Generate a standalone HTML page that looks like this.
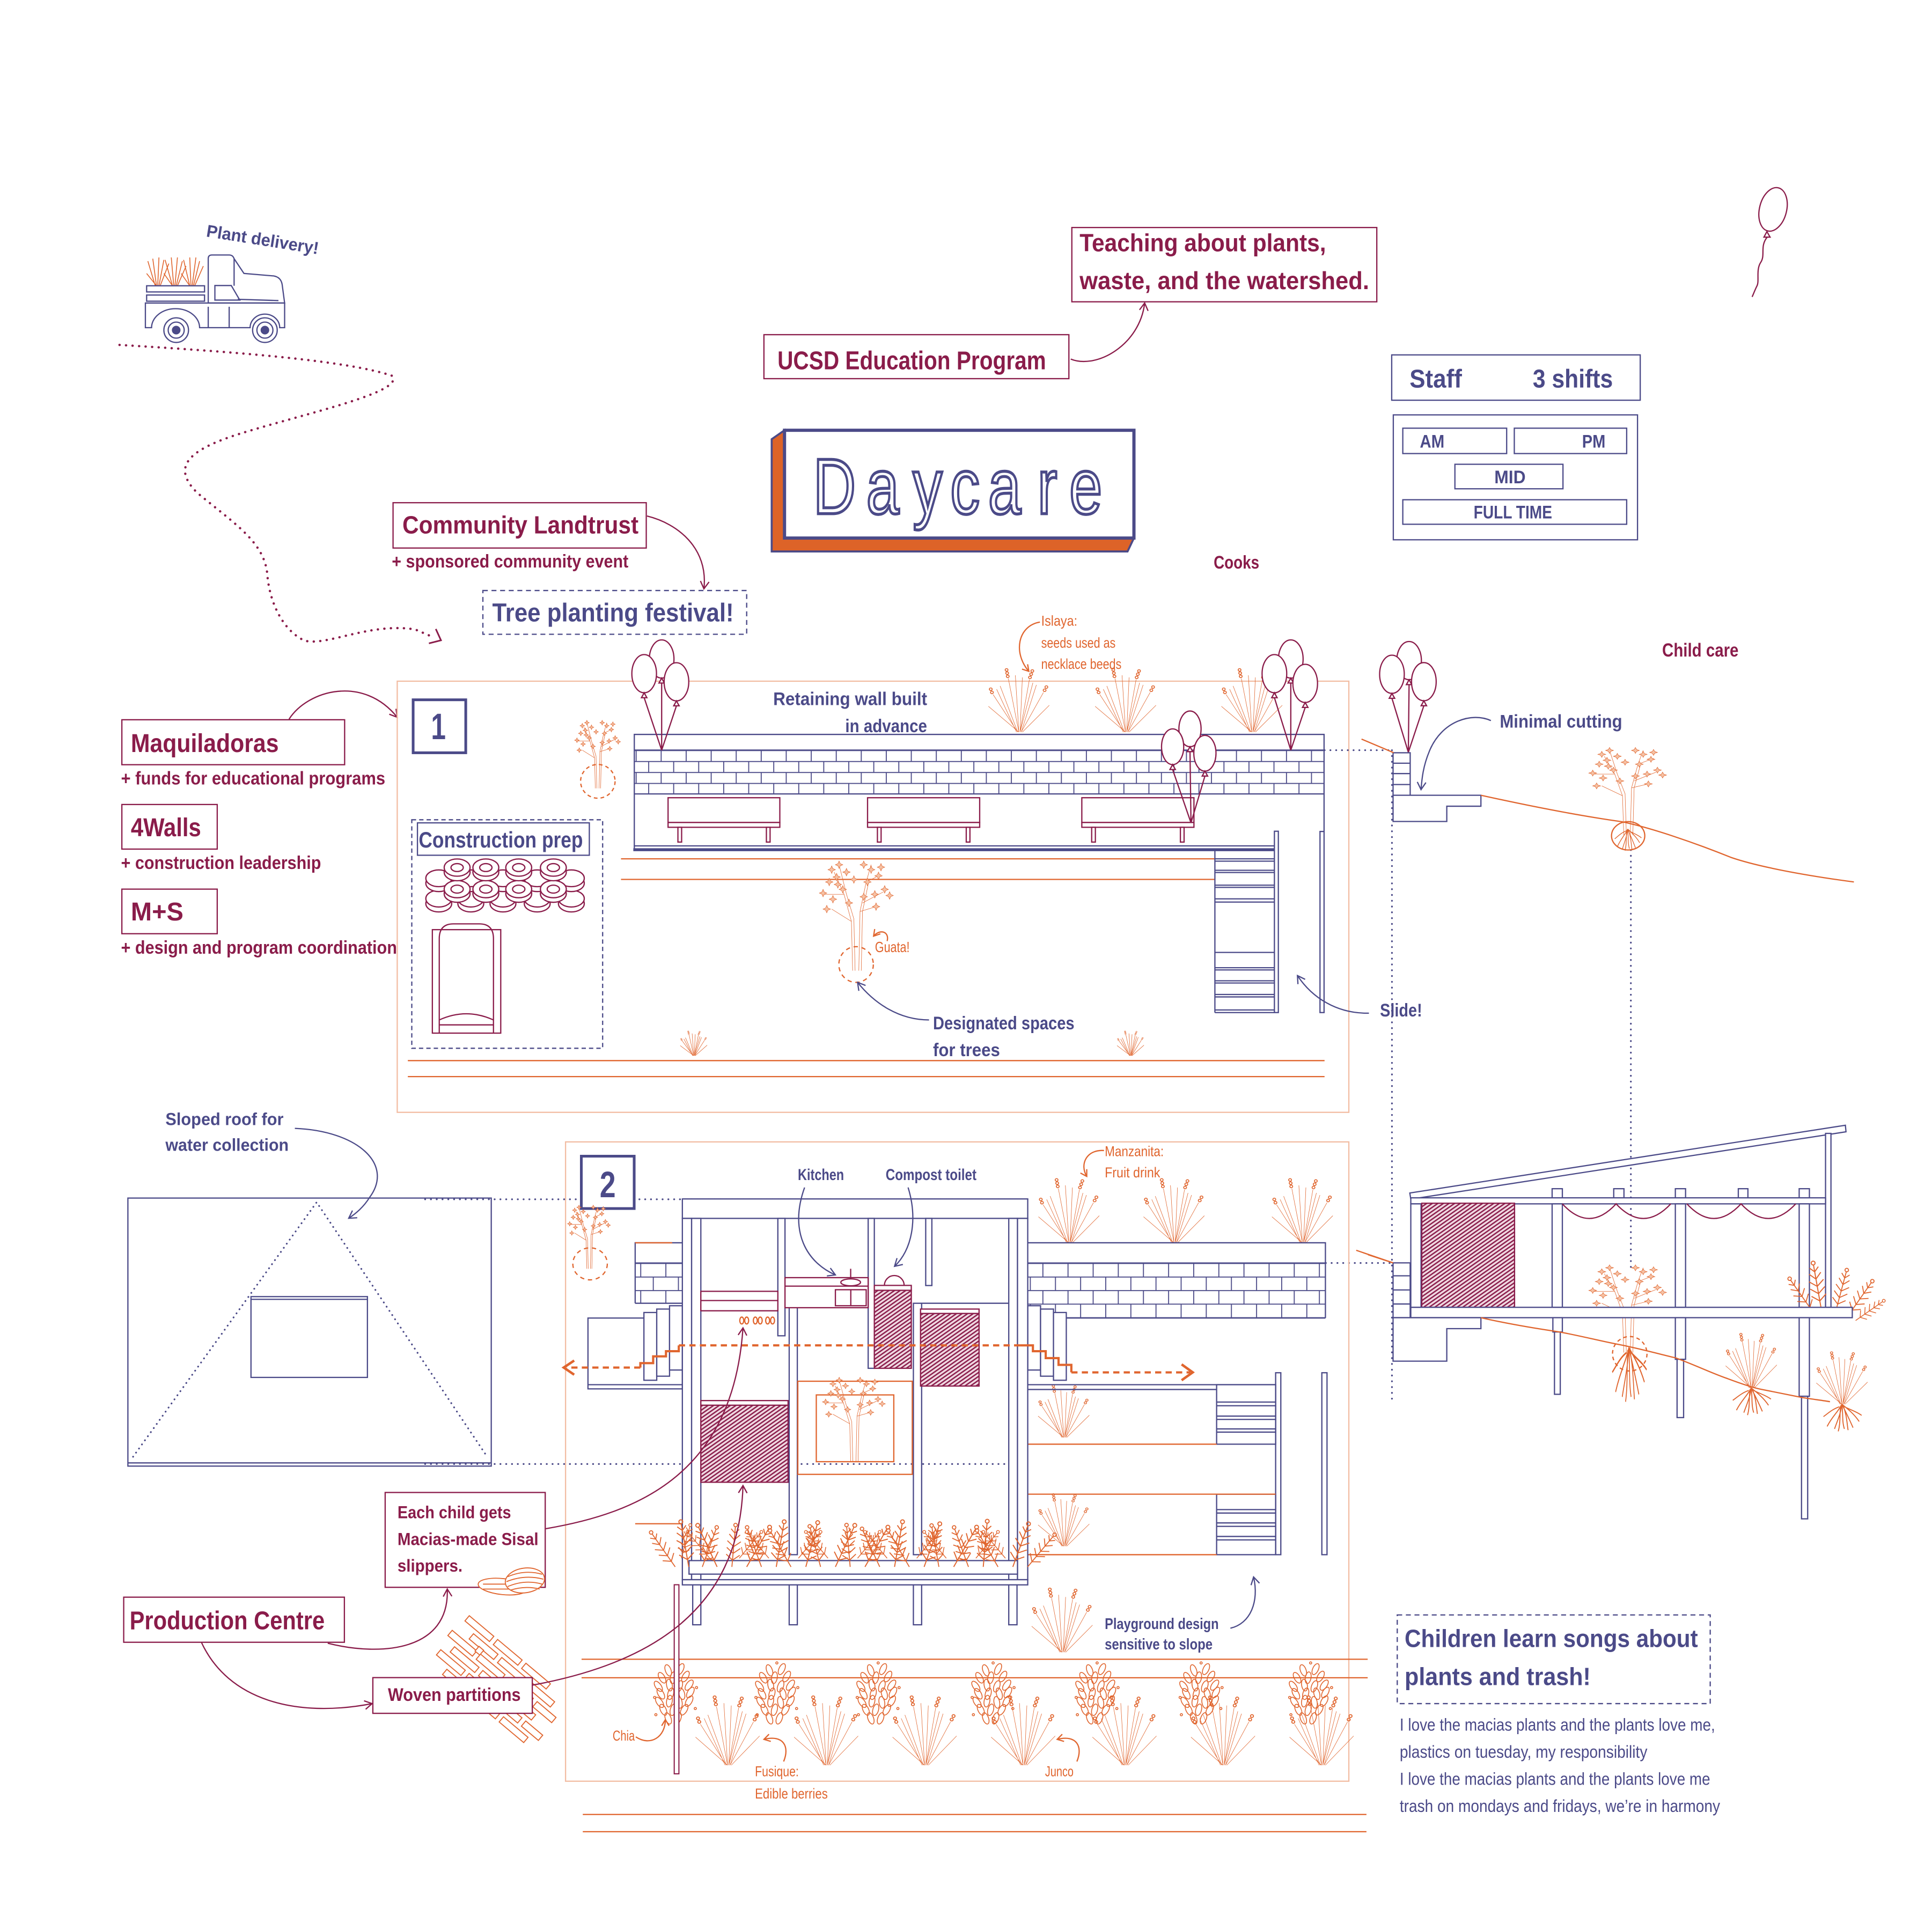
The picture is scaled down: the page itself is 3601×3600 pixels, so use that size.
<!DOCTYPE html>
<html>
<head>
<meta charset="utf-8">
<style>
html,body{margin:0;padding:0;background:#ffffff;}
svg{display:block;}
text{font-family:"Liberation Sans Narrow","Liberation Sans","DejaVu Sans Condensed",sans-serif;}
.tn{fill:#4b4a88;font-weight:bold;}
.tm{fill:#8a1c4a;font-weight:bold;}
.to{fill:#e0652e;}
.sn{fill:none;stroke:#4b4a88;stroke-width:1;}
.snw{fill:#ffffff;stroke:#4b4a88;stroke-width:1;}
.sm{fill:none;stroke:#8a1c4a;stroke-width:1;}
.smw{fill:#ffffff;stroke:#8a1c4a;stroke-width:1;}
.so{fill:none;stroke:#e0652e;stroke-width:1;}
.slo{fill:none;stroke:#f2bda3;stroke-width:1;}
.dotn{fill:none;stroke:#4b4a88;stroke-width:1.4;stroke-dasharray:0.1 4.6;stroke-linecap:round;}
.dotm{fill:none;stroke:#8a1c4a;stroke-width:1.9;stroke-dasharray:0.1 5.2;stroke-linecap:round;}
.dc{font-family:"Liberation Sans",sans-serif;font-size:64px;fill:#ffffff;stroke:#4b4a88;stroke-width:2.4px;}
</style>
</head>
<body>
<svg xmlns="http://www.w3.org/2000/svg" width="3601" height="3600" viewBox="0 0 1568 1567.6" preserveAspectRatio="none">
<defs>
  <marker id="am" viewBox="-8 -6 10 12" markerWidth="10" markerHeight="12" refX="0" refY="0" orient="auto" markerUnits="userSpaceOnUse"><path d="M-6,-3.5 L0,0 L-6,3.5" fill="none" stroke="#8a1c4a" stroke-width="1"/></marker>
  <marker id="an" viewBox="-8 -6 10 12" markerWidth="10" markerHeight="12" refX="0" refY="0" orient="auto" markerUnits="userSpaceOnUse"><path d="M-6,-3.5 L0,0 L-6,3.5" fill="none" stroke="#4b4a88" stroke-width="1"/></marker>
  <marker id="ao" viewBox="-8 -6 10 12" markerWidth="10" markerHeight="12" refX="0" refY="0" orient="auto" markerUnits="userSpaceOnUse"><path d="M-5,-3 L0,0 L-5,3" fill="none" stroke="#e0652e" stroke-width="1"/></marker>

  <pattern id="hatch" width="2.6" height="2.6" patternUnits="userSpaceOnUse" patternTransform="rotate(55)">
    <rect width="2.6" height="2.6" fill="#f1dbe4"/>
    <path d="M0.6,0 V2.6" stroke="#8a1c4a" stroke-width="1.1"/>
  </pattern>
  <pattern id="bk1" x="536.2" y="608.9" width="20.3" height="17.8" patternUnits="userSpaceOnUse">
    <path d="M0.4,0 V8.9 M10.55,8.9 V17.8 M0,0.4 H20.3 M0,9.3 H20.3" stroke="#4b4a88" stroke-width="0.8" fill="none"/>
  </pattern>
  <pattern id="bk2" x="846" y="1025.3" width="20.4" height="22" patternUnits="userSpaceOnUse">
    <path d="M0.4,0 V11 M10.6,11 V22 M0,0.4 H20.4 M0,11.4 H20.4" stroke="#4b4a88" stroke-width="0.8" fill="none"/>
  </pattern>

  <g id="gr" fill="none" stroke="#e0652e" stroke-width="0.8">
    <path vector-effect="non-scaling-stroke" d="M0,0 L-26,-24 M-1,0 L-22,-35 M-1,0 L-16,-43 M0,0 L-9,-50 M0,0 L-3,-53 M1,0 L3,-51 M1,0 L9,-49 M2,0 L15,-44 M2,0 L21,-37 M3,0 L26,-25 M-2,0 L-19,-40 M1,0 L12,-46"/>
    <g vector-effect="non-scaling-stroke">
    <circle cx="-9.5" cy="-52" r="1.2"/><circle cx="-10" cy="-55" r="1.2"/><circle cx="-10.5" cy="-58" r="1.2"/>
    <circle cx="9.5" cy="-51" r="1.2"/><circle cx="10.5" cy="-54" r="1.2"/><circle cx="11.5" cy="-57" r="1.2"/>
    <circle cx="-23" cy="-37" r="1.2"/><circle cx="-24" cy="-40" r="1.2"/>
    <circle cx="22" cy="-39" r="1.2"/><circle cx="23.5" cy="-42" r="1.2"/>
    </g>
  </g>

  <g id="tr" fill="none" stroke="#e0652e" stroke-width="0.8">
    <path vector-effect="non-scaling-stroke" d="M-3,0 L-4,-40 L-10,-62 M-1,0 L-2,-42 L-8,-62 M2,0 L3,-48 L8,-72 M4,0 L5,-48 L10,-72 M-4,-40 L-20,-50 M-10,-62 L-18,-80 M-10,-62 L-26,-62 M8,-72 L12,-86 M5,-55 L22,-64 M8,-72 L20,-78 M-8,-62 L-14,-86 M3,-48 L16,-52"/>
    <path vector-effect="non-scaling-stroke" fill="#f6c3a6" d="
M-20,-85 l0.9,2.1 2.1,0.9 -2.1,0.9 -0.9,2.1 -0.9,-2.1 -2.1,-0.9 2.1,-0.9z
M-14,-89 l0.9,2.1 2.1,0.9 -2.1,0.9 -0.9,2.1 -0.9,-2.1 -2.1,-0.9 2.1,-0.9z
M-8,-83 l0.9,2.1 2.1,0.9 -2.1,0.9 -0.9,2.1 -0.9,-2.1 -2.1,-0.9 2.1,-0.9z
M-22,-75 l0.9,2.1 2.1,0.9 -2.1,0.9 -0.9,2.1 -0.9,-2.1 -2.1,-0.9 2.1,-0.9z
M-15,-73 l0.9,2.1 2.1,0.9 -2.1,0.9 -0.9,2.1 -0.9,-2.1 -2.1,-0.9 2.1,-0.9z
M-27,-66 l0.9,2.1 2.1,0.9 -2.1,0.9 -0.9,2.1 -0.9,-2.1 -2.1,-0.9 2.1,-0.9z
M-19,-61 l0.9,2.1 2.1,0.9 -2.1,0.9 -0.9,2.1 -0.9,-2.1 -2.1,-0.9 2.1,-0.9z
M-11,-69 l0.9,2.1 2.1,0.9 -2.1,0.9 -0.9,2.1 -0.9,-2.1 -2.1,-0.9 2.1,-0.9z
M-6,-58 l0.9,2.1 2.1,0.9 -2.1,0.9 -0.9,2.1 -0.9,-2.1 -2.1,-0.9 2.1,-0.9z
M-24,-53 l0.9,2.1 2.1,0.9 -2.1,0.9 -0.9,2.1 -0.9,-2.1 -2.1,-0.9 2.1,-0.9z
M-2,-77 l0.9,2.1 2.1,0.9 -2.1,0.9 -0.9,2.1 -0.9,-2.1 -2.1,-0.9 2.1,-0.9z
M6,-89 l0.9,2.1 2.1,0.9 -2.1,0.9 -0.9,2.1 -0.9,-2.1 -2.1,-0.9 2.1,-0.9z
M12,-85 l0.9,2.1 2.1,0.9 -2.1,0.9 -0.9,2.1 -0.9,-2.1 -2.1,-0.9 2.1,-0.9z
M18,-80 l0.9,2.1 2.1,0.9 -2.1,0.9 -0.9,2.1 -0.9,-2.1 -2.1,-0.9 2.1,-0.9z
M9,-75 l0.9,2.1 2.1,0.9 -2.1,0.9 -0.9,2.1 -0.9,-2.1 -2.1,-0.9 2.1,-0.9z
M23,-69 l0.9,2.1 2.1,0.9 -2.1,0.9 -0.9,2.1 -0.9,-2.1 -2.1,-0.9 2.1,-0.9z
M15,-65 l0.9,2.1 2.1,0.9 -2.1,0.9 -0.9,2.1 -0.9,-2.1 -2.1,-0.9 2.1,-0.9z
M27,-64 l0.9,2.1 2.1,0.9 -2.1,0.9 -0.9,2.1 -0.9,-2.1 -2.1,-0.9 2.1,-0.9z
M6,-63 l0.9,2.1 2.1,0.9 -2.1,0.9 -0.9,2.1 -0.9,-2.1 -2.1,-0.9 2.1,-0.9z
M16,-55 l0.9,2.1 2.1,0.9 -2.1,0.9 -0.9,2.1 -0.9,-2.1 -2.1,-0.9 2.1,-0.9z
M-16,-79 l0.9,2.1 2.1,0.9 -2.1,0.9 -0.9,2.1 -0.9,-2.1 -2.1,-0.9 2.1,-0.9z
M20,-87 l0.9,2.1 2.1,0.9 -2.1,0.9 -0.9,2.1 -0.9,-2.1 -2.1,-0.9 2.1,-0.9z"/>
  </g>

  <g id="ch" fill="none" stroke="#e0652e" stroke-width="0.7">
    <ellipse cx="-6" cy="-44" rx="2.3" ry="4.8" transform="rotate(-20 -6 -44)"/>
    <ellipse cx="4" cy="-45" rx="2.3" ry="4.8" transform="rotate(25 4 -45)"/>
    <ellipse cx="-11" cy="-38" rx="2.3" ry="4.8" transform="rotate(-30 -11 -38)"/>
    <ellipse cx="-2" cy="-38" rx="2.3" ry="4.8" transform="rotate(10 -2 -38)"/>
    <ellipse cx="8" cy="-39" rx="2.3" ry="4.8" transform="rotate(30 8 -39)"/>
    <ellipse cx="-14" cy="-31" rx="2.3" ry="4.8" transform="rotate(-35 -14 -31)"/>
    <ellipse cx="-5" cy="-32" rx="2.3" ry="4.8" transform="rotate(-10 -5 -32)"/>
    <ellipse cx="3" cy="-31" rx="2.3" ry="4.8" transform="rotate(20 3 -31)"/>
    <ellipse cx="11" cy="-32" rx="2.3" ry="4.8" transform="rotate(35 11 -32)"/>
    <ellipse cx="-12" cy="-25" rx="2.3" ry="4.8" transform="rotate(-30 -12 -25)"/>
    <ellipse cx="-4" cy="-25" rx="2.3" ry="4.8" transform="rotate(15 -4 -25)"/>
    <ellipse cx="5" cy="-25" rx="2.3" ry="4.8" transform="rotate(-15 5 -25)"/>
    <ellipse cx="12" cy="-26" rx="2.3" ry="4.8" transform="rotate(30 12 -26)"/>
    <ellipse cx="-13" cy="-18" rx="2.3" ry="4.8" transform="rotate(-35 -13 -18)"/>
    <ellipse cx="-5" cy="-19" rx="2.3" ry="4.8" transform="rotate(10 -5 -19)"/>
    <ellipse cx="3" cy="-18" rx="2.3" ry="4.8" transform="rotate(-10 3 -18)"/>
    <ellipse cx="11" cy="-19" rx="2.3" ry="4.8" transform="rotate(30 11 -19)"/>
    <ellipse cx="-10" cy="-12" rx="2.3" ry="4.8" transform="rotate(-25 -10 -12)"/>
    <ellipse cx="-2" cy="-12" rx="2.3" ry="4.8" transform="rotate(15 -2 -12)"/>
    <ellipse cx="7" cy="-12" rx="2.3" ry="4.8" transform="rotate(30 7 -12)"/>
    <ellipse cx="-6" cy="-5" rx="2.3" ry="4.8" transform="rotate(-20 -6 -5)"/>
    <ellipse cx="2" cy="-5" rx="2.3" ry="4.8" transform="rotate(20 2 -5)"/>
    <circle cx="-17" cy="-22" r="0.9"/><circle cx="16" cy="-13" r="0.9"/><circle cx="-16" cy="-8" r="0.9"/><circle cx="17" cy="-30" r="0.9"/><circle cx="0" cy="-50" r="0.9"/>
  </g>

  <g id="fn" fill="none" stroke="#e0652e" stroke-width="0.7">
    <path d="M0,0 V-30 M0,-5 L-5,-9 M0,-5 L5,-9 M0,-10 L-5,-14 M0,-10 L5,-14 M0,-15 L-5,-19 M0,-15 L5,-19 M0,-20 L-4,-24 M0,-20 L4,-24 M0,-25 L-3,-28 M0,-25 L3,-28"/>
    <circle cx="0" cy="-31" r="1.3"/>
  </g>

  <g id="rt" fill="none" stroke="#e0652e" stroke-width="0.8">
    <path d="M0,0 C-3,6 -8,10 -12,18 M0,0 C-1,8 -4,14 -6,20 M0,0 C1,8 0,14 2,20 M0,0 C3,6 6,12 9,19 M0,0 C5,4 10,8 14,14 M-2,2 C-8,4 -12,8 -15,10 M2,2 C8,5 12,6 16,9 M-1,1 C-2,9 -1,15 -3,22 M1,1 C4,9 4,15 5,21"/>
  </g>
</defs>

<rect x="0" y="0" width="1568" height="1567.6" fill="#ffffff"/>

<!-- ================= TOP LEFT: truck ================= -->
<text class="tn" transform="translate(167,192) rotate(9)" font-size="14" textLength="92" lengthAdjust="spacingAndGlyphs">Plant delivery!</text>
<g>
  <g stroke="#e0652e" stroke-width="0.7" fill="none">
    <path d="M126,232 L120,212 M127,232 L124,210 M128,232 L129,209 M129,232 L133,211 M130,232 L137,214 M127,232 L119,222
             M140,232 L134,211 M141,232 L139,209 M142,232 L144,209 M143,232 L148,212 M144,232 L151,216 M140,232 L133,222
             M154,232 L149,211 M155,232 L154,209 M156,232 L159,209 M157,232 L162,212 M158,232 L165,216 M154,232 L147,222"/>
  </g>
  <g class="sn" stroke-width="0.8">
    <rect x="119" y="232" width="47" height="5" fill="#fff"/>
    <rect x="119" y="239.5" width="47" height="5" fill="#fff"/>
    <path d="M169,246 L169,210 Q169,207 172,207 L186,207 Q189,207 190,210 L198,222 L222,224 Q228,225 229,231 L231,246 Z" fill="#fff"/>
    <path d="M174.4,231.8 L187.7,231.8 L194.6,243.6 L174.4,243.6 Z"/>
    <path d="M190,210 L190,232 M193,243 L226,244"/>
    <path d="M118,246 L231,246 L231,266 L227,266 A12,11 0 0 0 203,266 L162,266 A19,15 0 0 0 123,266 L118,266 Z" fill="#fff"/>
    <path d="M169,249 L169,266 M186,249 L186,266"/>
    <circle cx="143" cy="268" r="10" fill="#fff"/><circle cx="143" cy="268" r="6.5"/><circle cx="143" cy="268" r="3" fill="#4b4a88"/>
    <circle cx="215" cy="268" r="10" fill="#fff"/><circle cx="215" cy="268" r="6.5"/><circle cx="215" cy="268" r="3" fill="#4b4a88"/>
  </g>
</g>
<path class="dotm" d="M97,280 C180,285 280,292 318,305 C330,318 250,335 195,352 C150,366 140,380 160,400 C190,425 215,440 217,467 C219,490 230,512 247,520 C265,525 300,505 337,511 L351,517"/>
<polyline points="353.7,510.6 357.9,519.8 348.1,522.3" fill="none" stroke="#8a1c4a" stroke-width="1.3"/>

<!-- ================= UCSD / Teaching ================= -->
<rect x="869.9" y="184.7" width="247.5" height="60.3" class="smw"/>
<text class="tm" x="876.2" y="204" font-size="20" textLength="200" lengthAdjust="spacingAndGlyphs">Teaching about plants,</text>
<text class="tm" x="876.2" y="234.7" font-size="20" textLength="235" lengthAdjust="spacingAndGlyphs">waste, and the watershed.</text>
<rect x="620" y="271.7" width="247.5" height="35.7" class="smw"/>
<text class="tm" x="631" y="299.7" font-size="21" textLength="218" lengthAdjust="spacingAndGlyphs">UCSD Education Program</text>
<path class="sm" d="M869,291.5 C890,300 925,280 929,246" marker-end="url(#am)"/>

<!-- ================= Daycare ================= -->
<polygon points="626.3,356.5 636.7,349.3 636.7,436.8 920.3,436.8 915.1,447.7 626.3,447.7" fill="#dd6328" stroke="#4b4a88" stroke-width="1.6"/>
<rect x="636.7" y="349.3" width="283.6" height="87.5" fill="#ffffff" stroke="#4b4a88" stroke-width="2.6"/>
<text class="dc" transform="translate(677.3,417) scale(0.75,1)" text-anchor="middle">D</text>
<text class="dc" transform="translate(716.4,417) scale(0.75,1)" text-anchor="middle">a</text>
<text class="dc" transform="translate(752.8,417) scale(0.75,1)" text-anchor="middle">y</text>
<text class="dc" transform="translate(783.2,417) scale(0.75,1)" text-anchor="middle">c</text>
<text class="dc" transform="translate(815.3,417) scale(0.75,1)" text-anchor="middle">a</text>
<text class="dc" transform="translate(850,417) scale(0.75,1)" text-anchor="middle">r</text>
<text class="dc" transform="translate(881.2,417) scale(0.75,1)" text-anchor="middle">e</text>

<!-- ================= Staff ================= -->
<rect x="1129.5" y="288.1" width="201.7" height="36.8" class="snw" stroke-width="1.2"/>
<text class="tn" x="1144" y="314.7" font-size="21" textLength="42.5" lengthAdjust="spacingAndGlyphs">Staff</text>
<text class="tn" x="1244" y="314.7" font-size="21" textLength="65" lengthAdjust="spacingAndGlyphs">3 shifts</text>
<rect x="1130.8" y="336.8" width="198.2" height="101.4" class="snw" stroke-width="1.2"/>
<rect x="1138.5" y="347.6" width="84.3" height="20.6" class="snw"/>
<text class="tn" x="1152.3" y="363.4" font-size="15" textLength="20" lengthAdjust="spacingAndGlyphs">AM</text>
<rect x="1229" y="347.6" width="91.2" height="20.6" class="snw"/>
<text class="tn" x="1284" y="363.4" font-size="15" textLength="19" lengthAdjust="spacingAndGlyphs">PM</text>
<rect x="1180.8" y="376.9" width="87.7" height="19.9" class="snw"/>
<text class="tn" x="1212.8" y="392.3" font-size="15" textLength="25.4" lengthAdjust="spacingAndGlyphs">MID</text>
<rect x="1138.5" y="405.7" width="181.7" height="19.9" class="snw"/>
<text class="tn" x="1196" y="420.9" font-size="15" textLength="63.7" lengthAdjust="spacingAndGlyphs">FULL TIME</text>

<text class="tm" x="985" y="461.5" font-size="15" textLength="37" lengthAdjust="spacingAndGlyphs">Cooks</text>
<text class="tm" x="1349" y="533" font-size="15.5" textLength="62" lengthAdjust="spacingAndGlyphs">Child care</text>

<!-- top right balloon -->
<ellipse cx="1439" cy="170" rx="11" ry="18" class="smw" transform="rotate(14 1439 170)"/>
<path d="M1434,188 L1431.6,192.5 L1436.6,192.5 Z" class="smw"/>
<path class="sm" d="M1434.4,192.3 C1428,200 1433,207 1429,213 C1425,219 1428,228 1426,232 C1424,236 1423,239 1422,241"/>

<!-- ================= Community Landtrust ================= -->
<rect x="319" y="408.1" width="205.5" height="36.8" class="smw"/>
<text class="tm" x="326.6" y="433.1" font-size="20" textLength="191.6" lengthAdjust="spacingAndGlyphs">Community Landtrust</text>
<text class="tm" x="318" y="460.6" font-size="15" textLength="192" lengthAdjust="spacingAndGlyphs">+ sponsored community event</text>
<path class="sm" d="M525.1,418.9 C550,425 575,445 571.3,478" marker-end="url(#am)"/>
<rect x="391.9" y="479.4" width="214.1" height="35.5" fill="#fff" stroke="#4b4a88" stroke-width="1" stroke-dasharray="4,3"/>
<text class="tn" x="399.5" y="504.4" font-size="21" textLength="196" lengthAdjust="spacingAndGlyphs">Tree planting festival!</text>

<!-- ================= Left partner boxes ================= -->
<rect x="98.9" y="584.3" width="180.8" height="36.5" class="smw"/>
<text class="tm" x="106.2" y="610.6" font-size="21" textLength="120" lengthAdjust="spacingAndGlyphs">Maquiladoras</text>
<text class="tm" x="98.2" y="636.8" font-size="15" textLength="214.5" lengthAdjust="spacingAndGlyphs">+ funds for educational programs</text>
<rect x="98.9" y="653.1" width="77.4" height="36.2" class="smw"/>
<text class="tm" x="106.2" y="678.8" font-size="21" textLength="57" lengthAdjust="spacingAndGlyphs">4Walls</text>
<text class="tm" x="98.2" y="705.5" font-size="15" textLength="162.4" lengthAdjust="spacingAndGlyphs">+ construction leadership</text>
<rect x="98.9" y="721.8" width="77.4" height="36.2" class="smw"/>
<text class="tm" x="106.2" y="747.2" font-size="21" textLength="42.7" lengthAdjust="spacingAndGlyphs">M+S</text>
<text class="tm" x="98.2" y="774.2" font-size="15" textLength="224" lengthAdjust="spacingAndGlyphs">+ design and program coordination</text>
<path class="sm" d="M234.6,583.8 C250,560 295,548 322.4,582.3" marker-end="url(#am)"/>

<!-- ================= SECTION 1 ================= -->
<rect x="322.4" y="553" width="772.3" height="350" class="slo"/>
<rect x="335.3" y="568.1" width="42.7" height="43" fill="#fff" stroke="#4b4a88" stroke-width="2.2"/>
<text class="tn" transform="translate(355.8,600) scale(0.72,1)" text-anchor="middle" font-size="30" font-family="Liberation Sans, sans-serif">1</text>

<!-- small tree top-left -->
<use href="#tr" transform="translate(485,640) scale(0.62)"/>
<ellipse cx="485.2" cy="634.3" rx="14" ry="13.7" class="so" stroke-dasharray="3,2.5"/>

<!-- orange lines -->
<path class="so" d="M504,697.2 H986 M504,713.9 H986"/>
<path class="so" d="M331,861 H1075 M331,874 H1075"/>

<!-- grasses on top of wall -->
<use href="#gr" transform="translate(826.9,594.3) scale(0.95,0.87)"/>
<use href="#gr" transform="translate(913.5,594.3) scale(0.95,0.87)"/>
<use href="#gr" transform="translate(1016,594.3) scale(0.95,0.87)"/>
<use href="#gr" transform="translate(563,857) scale(0.42,0.34)"/>
<use href="#gr" transform="translate(917.5,857) scale(0.42,0.34)"/>

<!-- retaining wall -->
<rect x="514.8" y="608.9" width="559.8" height="35.6" fill="url(#bk1)"/>
<path class="sn" d="M514.8,689.8 L514.8,596.2 L1074.6,596.2 L1074.6,675 M514.8,608.9 H1074.6 M514.8,644.5 H1074.6 M514.8,686.7 H1034"/>
<path d="M514,689.8 H1036" stroke="#4b4a88" stroke-width="2.4"/>
<!-- benches -->
<g class="sm">
  <rect x="542.2" y="647.6" width="90.7" height="20.1" fill="#fff"/><rect x="542.2" y="667.7" width="90.7" height="3.9" fill="#fff"/>
  <rect x="550.2" y="671.6" width="3" height="12" fill="#fff"/><rect x="622" y="671.6" width="3" height="12" fill="#fff"/>
  <rect x="704.1" y="647.6" width="91" height="20.1" fill="#fff"/><rect x="704.1" y="667.7" width="91" height="3.9" fill="#fff"/>
  <rect x="712.1" y="671.6" width="3" height="12" fill="#fff"/><rect x="784.2" y="671.6" width="3" height="12" fill="#fff"/>
  <rect x="878" y="647.6" width="91" height="20.1" fill="#fff"/><rect x="878" y="667.7" width="91" height="3.9" fill="#fff"/>
  <rect x="886" y="671.6" width="3" height="12" fill="#fff"/><rect x="958" y="671.6" width="3" height="12" fill="#fff"/>
</g>
<!-- stairs & slide -->
<g class="sn">
  <path d="M986,689.8 V822 M986,697.2 H1034.3 M986,699.1 H1034.3 M986,706.5 H1034.3 M986,708.3 H1034.3 M986,718.6 H1034.3 M986,720.4 H1034.3 M986,729.7 H1034.3 M986,732.3 H1034.3 M986,773.2 H1034.3 M986,785.6 H1034.3 M986,787.4 H1034.3 M986,796.2 H1034.3 M986,798 H1034.3 M986,807.3 H1034.3 M986,809.3 H1034.3 M986,819.9 H1034.3 M986,822 H1034.3"/>
  <rect x="1034.3" y="674.8" width="3.2" height="147.2" fill="#fff"/>
  <rect x="1071.3" y="675" width="3.3" height="147" fill="#fff"/>
</g>

<!-- Construction prep -->
<rect x="334.2" y="665.5" width="154.9" height="185.5" fill="none" stroke="#4b4a88" stroke-width="1" stroke-dasharray="3.5,2.5"/>
<rect x="338.8" y="668" width="139.5" height="26.3" class="snw" stroke-width="1.2"/>
<text class="tn" x="339.8" y="688" font-size="18" textLength="133.3" lengthAdjust="spacingAndGlyphs">Construction prep</text>
<g class="smw" stroke-width="0.9">
  <g>
    <ellipse cx="356.1" cy="733.5" rx="10.5" ry="6.8"/><ellipse cx="382.1" cy="733.5" rx="10.5" ry="6.8"/><ellipse cx="408.2" cy="733.5" rx="10.5" ry="6.8"/><ellipse cx="436" cy="733.5" rx="10.5" ry="6.8"/><ellipse cx="463.7" cy="733.5" rx="10.5" ry="6.8"/>
    <ellipse cx="356.1" cy="729.5" rx="10.5" ry="6.8"/><ellipse cx="382.1" cy="729.5" rx="10.5" ry="6.8"/><ellipse cx="408.2" cy="729.5" rx="10.5" ry="6.8"/><ellipse cx="436" cy="729.5" rx="10.5" ry="6.8"/><ellipse cx="463.7" cy="729.5" rx="10.5" ry="6.8"/>
    <ellipse cx="356.1" cy="717" rx="10.5" ry="6.8"/><ellipse cx="382.1" cy="717" rx="10.5" ry="6.8"/><ellipse cx="408.2" cy="717" rx="10.5" ry="6.8"/><ellipse cx="436" cy="717" rx="10.5" ry="6.8"/><ellipse cx="463.7" cy="717" rx="10.5" ry="6.8"/>
    <ellipse cx="356.1" cy="713" rx="10.5" ry="6.8"/><ellipse cx="382.1" cy="713" rx="10.5" ry="6.8"/><ellipse cx="408.2" cy="713" rx="10.5" ry="6.8"/><ellipse cx="436" cy="713" rx="10.5" ry="6.8"/><ellipse cx="463.7" cy="713" rx="10.5" ry="6.8"/>
  </g>
  <g>
    <ellipse cx="371" cy="725.5" rx="10.5" ry="7"/><ellipse cx="394.3" cy="725.5" rx="10.5" ry="7"/><ellipse cx="421" cy="725.5" rx="10.5" ry="7"/><ellipse cx="449.1" cy="725.5" rx="10.5" ry="7"/>
    <ellipse cx="371" cy="721.8" rx="10.5" ry="7"/><ellipse cx="394.3" cy="721.8" rx="10.5" ry="7"/><ellipse cx="421" cy="721.8" rx="10.5" ry="7"/><ellipse cx="449.1" cy="721.8" rx="10.5" ry="7"/>
    <ellipse cx="371" cy="721.8" rx="5" ry="3.2"/><ellipse cx="394.3" cy="721.8" rx="5" ry="3.2"/><ellipse cx="421" cy="721.8" rx="5" ry="3.2"/><ellipse cx="449.1" cy="721.8" rx="5" ry="3.2"/>
    <ellipse cx="371" cy="708" rx="10.5" ry="7"/><ellipse cx="394.3" cy="708" rx="10.5" ry="7"/><ellipse cx="421" cy="708" rx="10.5" ry="7"/><ellipse cx="449.1" cy="708" rx="10.5" ry="7"/>
    <ellipse cx="371" cy="704.3" rx="10.5" ry="7"/><ellipse cx="394.3" cy="704.3" rx="10.5" ry="7"/><ellipse cx="421" cy="704.3" rx="10.5" ry="7"/><ellipse cx="449.1" cy="704.3" rx="10.5" ry="7"/>
    <ellipse cx="371" cy="704.3" rx="5" ry="3.2"/><ellipse cx="394.3" cy="704.3" rx="5" ry="3.2"/><ellipse cx="421" cy="704.3" rx="5" ry="3.2"/><ellipse cx="449.1" cy="704.3" rx="5" ry="3.2"/>
  </g>
</g>
<g class="sm">
  <rect x="350.9" y="754.7" width="55.5" height="84"/>
  <path d="M356.5,838.7 V762 Q356.5,750 368,750 H389 Q400.5,750 400.5,762 V838.7"/>
  <path d="M356.5,828 Q378.5,818 400.5,828 M356.5,832 H400.5"/>
</g>

<!-- Guata tree -->
<use href="#tr" transform="translate(695,788) scale(1,1)"/>
<ellipse cx="694.8" cy="783" rx="14" ry="14.5" class="so" stroke-dasharray="3.5,3"/>
<text class="to" x="710.1" y="773" font-size="12" textLength="28.2" lengthAdjust="spacingAndGlyphs">Guata!</text>
<path class="so" d="M720,764 C722,756 714,754 709,760" marker-end="url(#ao)"/>

<!-- Section 1 labels -->
<text class="tn" x="627.5" y="572.5" font-size="15" textLength="125" lengthAdjust="spacingAndGlyphs">Retaining wall built</text>
<text class="tn" x="686" y="594.3" font-size="15" textLength="66.4" lengthAdjust="spacingAndGlyphs">in advance</text>
<text class="to" x="845" y="508" font-size="11.5" textLength="29.4" lengthAdjust="spacingAndGlyphs">Islaya:</text>
<text class="to" x="845" y="525.8" font-size="11.5" textLength="60.4" lengthAdjust="spacingAndGlyphs">seeds used as</text>
<text class="to" x="845" y="542.9" font-size="11.5" textLength="65.2" lengthAdjust="spacingAndGlyphs">necklace beeds</text>
<path class="so" d="M844,505 C826,508 822,530 835,545" marker-end="url(#ao)"/>
<text class="tn" x="757.2" y="835.7" font-size="15" textLength="114.8" lengthAdjust="spacingAndGlyphs">Designated spaces</text>
<text class="tn" x="757.2" y="857.4" font-size="15" textLength="54.4" lengthAdjust="spacingAndGlyphs">for trees</text>
<path class="sn" d="M754,828 C730,828 710,815 696,797.5" marker-end="url(#an)"/>
<text class="tn" x="1120" y="825.1" font-size="15" textLength="34.2" lengthAdjust="spacingAndGlyphs">Slide!</text>
<path class="sn" d="M1111,822.5 C1085,823 1065,810 1053,792" marker-end="url(#an)"/>

<!-- Balloons groups -->
<g class="sm">
  <path d="M522.8,566.4 L537,609 M537,554.5 L537,609 M549,573 L537,609"/>
  <path d="M1034.3,566.4 L1047.6,609 M1047.6,554.5 L1047.6,609 M1059.3,574.3 L1047.6,609"/>
  <path d="M951.7,624.7 L966.6,668 M965.8,610.2 L966.6,668 M977.9,630 L966.6,668"/>
  <path d="M1129.7,566.9 L1143,610.7 M1143.6,555.8 L1143,610.7 M1155.6,572.9 L1143,610.7"/>
</g>
<g class="smw">
  <ellipse cx="537" cy="535" rx="10" ry="15.5"/><path d="M537,550.5 l-2.2,4 h4.4z"/>
  <ellipse cx="522.8" cy="546.9" rx="10" ry="15.5"/><path d="M522.8,562.4 l-2.2,4 h4.4z"/>
  <ellipse cx="549" cy="553.5" rx="10" ry="15.5"/><path d="M549,569 l-2.2,4 h4.4z"/>

  <ellipse cx="1047.6" cy="535" rx="10" ry="15.5"/><path d="M1047.6,550.5 l-2.2,4 h4.4z"/>
  <ellipse cx="1034.3" cy="546.9" rx="10" ry="15.5"/><path d="M1034.3,562.4 l-2.2,4 h4.4z"/>
  <ellipse cx="1059.3" cy="554.8" rx="10" ry="15.5"/><path d="M1059.3,570.3 l-2.2,4 h4.4z"/>

  <ellipse cx="965.8" cy="591.7" rx="9" ry="14.5"/><path d="M965.8,606.2 l-2.2,4 h4.4z"/>
  <ellipse cx="951.7" cy="606.2" rx="9" ry="14.5"/><path d="M951.7,620.7 l-2.2,4 h4.4z"/>
  <ellipse cx="977.9" cy="611.5" rx="9" ry="14.5"/><path d="M977.9,626 l-2.2,4 h4.4z"/>

  <ellipse cx="1143.6" cy="536.3" rx="10" ry="15.5"/><path d="M1143.6,551.8 l-2.2,4 h4.4z"/>
  <ellipse cx="1129.7" cy="547.4" rx="10" ry="15.5"/><path d="M1129.7,562.9 l-2.2,4 h4.4z"/>
  <ellipse cx="1155.6" cy="553.4" rx="10" ry="15.5"/><path d="M1155.6,568.9 l-2.2,4 h4.4z"/>
</g>

<!-- dotted guides -->
<path class="dotn" d="M1075,609 H1130 M1129.7,609 V1137 M1323.6,690 V1030 M1076,1025.3 H1130.6"/>

<!-- Right section 1 -->
<g class="sn">
  <rect x="1130.6" y="611.1" width="13.9" height="34.5" fill="#fff"/>
  <path d="M1130.6,619.6 H1144.5 M1130.6,628 H1144.5 M1130.6,636.9 H1144.5"/>
  <polygon points="1130.6,645.6 1201.9,645.6 1201.9,654.5 1174.2,654.5 1174.2,666.9 1130.6,666.9" fill="#fff"/>
</g>
<path class="so" stroke-width="1.2" d="M1105,600 L1131,611 M1201.9,645.6 C1240,654 1280,662 1315.8,667 C1340,672 1375,684 1404.7,696 C1425,703 1460,710 1504.6,716"/>
<use href="#tr" transform="translate(1321,678) scale(1.05,0.8)"/>
<use href="#rt" transform="translate(1321,673) scale(0.7,0.8)"/>
<ellipse cx="1321.4" cy="678.5" rx="13.5" ry="11.5" class="so" stroke-width="0.7"/>
<text class="tn" x="1217.2" y="590.7" font-size="15" textLength="99.4" lengthAdjust="spacingAndGlyphs">Minimal cutting</text>
<path class="sn" d="M1210,585 C1195,578 1170,585 1160,610 C1155,622 1154,632 1153.3,641" marker-end="url(#an)"/>

<!-- ================= LEFT PLAN ================= -->
<text class="tn" x="134.3" y="913.3" font-size="14" textLength="95.8" lengthAdjust="spacingAndGlyphs">Sloped roof for</text>
<text class="tn" x="134.3" y="934.3" font-size="14" textLength="100" lengthAdjust="spacingAndGlyphs">water collection</text>
<rect x="103.8" y="972.6" width="294.9" height="217.6" class="sn" stroke-width="1.1"/>
<path class="sn" d="M103.8,1187.6 H398.7"/>
<rect x="203.7" y="1052.6" width="94.5" height="65.6" class="sn"/>
<path class="sn" d="M203.7,1054.8 H298.2"/>
<path class="dotn" stroke-width="0.9" style="stroke-dasharray:0.1 4" d="M108,1182.6 L257,976 L395.4,1182.6"/>
<path class="sn" d="M239.3,916 C290,918 320,945 300,972 C295,980 289,985 283,989" marker-end="url(#an)"/>
<path class="dotn" d="M345,973.6 H834 M345,1188.5 H832"/>

<!-- ================= SECTION 2 ================= -->
<rect x="459" y="927" width="635.7" height="519" class="slo"/>
<rect x="471.8" y="938.6" width="42.9" height="42.5" fill="#fff" stroke="#4b4a88" stroke-width="2.2"/>
<text class="tn" transform="translate(493.2,972) scale(0.78,1)" text-anchor="middle" font-size="30" font-family="Liberation Sans, sans-serif">2</text>
<use href="#tr" transform="translate(478,1030) scale(0.58)"/>
<ellipse cx="478.9" cy="1026" rx="14" ry="13" class="so" stroke-dasharray="3.5,3"/>

<!-- grasses right wall + annex -->
<use href="#gr" transform="translate(867.5,1008.9) scale(0.95,0.88)"/>
<use href="#gr" transform="translate(952.8,1008.9) scale(0.95,0.88)"/>
<use href="#gr" transform="translate(1057,1008.9) scale(0.95,0.88)"/>
<use href="#gr" transform="translate(863.3,1166.9) scale(0.8,0.72)"/>
<use href="#gr" transform="translate(863.3,1255.2) scale(0.8,0.72)"/>
<use href="#gr" transform="translate(862,1341.3) scale(0.95,0.88)"/>

<!-- left wall bricks / annex -->
<rect x="515.5" y="1025.3" width="38.3" height="32.7" fill="url(#bk2)"/>
<g class="sn">
  <path d="M515.5,1058 V1008.9 H553.8 M515.5,1025.3 H553.8 M515.5,1058 H553.8"/>
  <rect x="477.2" y="1070" width="76.6" height="57.5" fill="#fff"/>
  <path d="M477.2,1124.1 H553.8"/>
  <rect x="522.6" y="1065.5" width="10.4" height="55" fill="#fff"/>
  <rect x="533" y="1062.7" width="10.4" height="54.5" fill="#fff"/>
  <rect x="543.4" y="1060" width="10.4" height="52.2" fill="#fff"/>
</g>
<path class="so" d="M515.5,1008.9 H545.5 M515.5,1237 H553.8"/>

<!-- right wall -->
<rect x="834.1" y="1025.3" width="241.6" height="44.7" fill="url(#bk2)"/>
<g class="sn">
  <path d="M834.1,1008.9 H1075.7 V1070 M834.1,1025.3 H1075.7 M834.1,1070 H1075.7"/>
  <rect x="834.1" y="1060" width="10.4" height="52.2" fill="#fff"/>
  <rect x="844.5" y="1062.7" width="10.5" height="54.5" fill="#fff"/>
  <rect x="855" y="1065.5" width="10.4" height="55" fill="#fff"/>
  <path d="M834.1,1124.1 H1038.2 M834.1,1128 H987.4"/>
  <rect x="1035.3" y="1114.4" width="4.2" height="147.7" fill="#fff"/>
  <rect x="1072.8" y="1114.4" width="4.2" height="147.7" fill="#fff"/>
  <rect x="987.4" y="1124.1" width="47.9" height="48.3" fill="#fff"/>
  <path d="M987.4,1138.2 H1035.3 M987.4,1141.2 H1035.3 M987.4,1149.6 H1035.3 M987.4,1152.3 H1035.3 M987.4,1160 H1035.3 M987.4,1162.6 H1035.3"/>
  <rect x="987.4" y="1213" width="47.9" height="49.1" fill="#fff"/>
  <path d="M987.4,1225.5 H1035.3 M987.4,1228.3 H1035.3 M987.4,1236.3 H1035.3 M987.4,1239.1 H1035.3 M987.4,1247.3 H1035.3 M987.4,1250.1 H1035.3"/>
</g>
<path class="so" d="M834.1,1172.4 H987.4 M834.1,1213 H1035.3 M834.1,1262.1 H987.4 M1100.7,1015 L1130.6,1025.2"/>

<!-- building frame -->
<g class="sn">
  <rect x="553.8" y="973.3" width="280.3" height="15.8" fill="#fff"/>
  <rect x="553.8" y="989.1" width="7.5" height="293.3" fill="#fff"/>
  <rect x="561.3" y="989.1" width="7.5" height="293.3" fill="#fff"/>
  <rect x="631.3" y="989.1" width="5.8" height="95.3" fill="#fff"/>
  <rect x="640.5" y="1058.6" width="6.6" height="203.5" fill="#fff"/>
  <rect x="704.6" y="989.1" width="5" height="121.7" fill="#fff"/>
  <rect x="751.3" y="989.1" width="5" height="54.5" fill="#fff"/>
  <rect x="741.3" y="1058" width="6.7" height="204.1" fill="#fff"/>
  <rect x="818.7" y="989.1" width="7.1" height="293.3" fill="#fff"/>
  <rect x="825.8" y="989.1" width="8.3" height="293.3" fill="#fff"/>
  <path d="M568.8,1057.2 H631.3 M747,1058 H818.7 M568.8,1064 H631.3"/>
  <rect x="559.2" y="1266.9" width="266.6" height="11" fill="#fff"/>
  <rect x="553.8" y="1282.4" width="280.3" height="4.2" fill="#fff"/>
  <rect x="562.2" y="1286.6" width="6.6" height="32.4" fill="#fff"/>
  <rect x="640.5" y="1286.6" width="6.6" height="32.4" fill="#fff"/>
  <rect x="741.3" y="1286.6" width="6.7" height="32.4" fill="#fff"/>
  <rect x="818.7" y="1286.6" width="6.7" height="32.4" fill="#fff"/>
</g>

<!-- kitchen items -->
<g class="sm">
  <rect x="568.8" y="1048.3" width="62.5" height="15.8" fill="#fff"/>
  <path d="M568.8,1055.8 H631.3"/>
  <rect x="637.1" y="1037.2" width="67.5" height="24.4" fill="#fff"/>
  <path d="M637.1,1044.1 H704.6"/>
  <ellipse cx="690.4" cy="1041" rx="8" ry="2.8"/>
  <path d="M690.4,1030 V1038"/>
  <rect x="678" y="1047" width="25" height="13"/>
  <path d="M690.5,1047 V1060"/>
  <path d="M717.8,1043.5 A8,8 0 1 1 733.8,1043.5" fill="#fff"/>
  <rect x="709.6" y="1043.5" width="30" height="4" fill="#fff"/>
  <rect x="709.6" y="1047.5" width="30" height="63.3" fill="url(#hatch)"/>
  <rect x="747.1" y="1062.7" width="47.5" height="3.6" fill="#fff"/>
  <rect x="747.1" y="1066.3" width="47.5" height="58.9" fill="url(#hatch)"/>
  <rect x="568.8" y="1137" width="70.8" height="3.8" fill="#fff"/>
  <rect x="568.8" y="1140.8" width="70.8" height="62.5" fill="url(#hatch)"/>
</g>
<g class="so" stroke-width="0.7">
  <ellipse cx="602" cy="1072" rx="1.6" ry="2.8"/><ellipse cx="606" cy="1072" rx="1.6" ry="2.8"/>
  <ellipse cx="613" cy="1072" rx="1.6" ry="2.8"/><ellipse cx="617" cy="1072" rx="1.6" ry="2.8"/>
  <ellipse cx="623" cy="1072" rx="1.6" ry="2.8"/><ellipse cx="627" cy="1072" rx="1.6" ry="2.8"/>
</g>

<!-- planter box with tree -->
<rect x="647.5" y="1121.3" width="92.9" height="75.6" class="so" fill="#fff"/>
<rect x="662.5" y="1132.4" width="62.9" height="54.2" class="so"/>
<use href="#tr" transform="translate(693,1186.6) scale(0.85,0.77)"/>

<!-- dashed orange path -->
<g fill="none" stroke="#e0652e" stroke-width="1.8">
  <path stroke-dasharray="5,3.5" d="M828,1092.2 H550.9"/>
  <path d="M550.9,1092.2 V1096.9 H540.5 V1101.1 H530.1 V1106.6 H519.7 V1110.2"/>
  <path stroke-dasharray="5,3.5" d="M519.7,1110.2 H460"/>
  <path d="M828,1092.2 H838.3 V1096.9 H848.7 V1102.5 H859.1 V1108 H869.5 V1114.1"/>
  <path stroke-dasharray="5,3.5" d="M869.5,1114.1 H966"/>
  <path stroke-width="2" d="M466,1104.5 L457.5,1110.2 L466,1116"/>
  <path stroke-width="2" d="M959,1107.6 L968,1114.1 L959,1120.5"/>
</g>

<!-- flower row on planter -->
<g>
  <use href="#fn" transform="translate(548,1272) rotate(-35) scale(1.1)"/>
  <use href="#fn" transform="translate(559,1272) rotate(-10) scale(1.2)"/>
  <use href="#fn" transform="translate(570,1272) rotate(20) scale(1.1)"/>
  <use href="#fn" transform="translate(582,1272) rotate(-25) scale(1.2)"/>
  <use href="#fn" transform="translate(594,1272) rotate(5) scale(1.1)"/>
  <use href="#fn" transform="translate(606,1272) rotate(30) scale(1.2)"/>
  <use href="#fn" transform="translate(618,1272) rotate(-20) scale(1.1)"/>
  <use href="#fn" transform="translate(630,1272) rotate(10) scale(1.2)"/>
  <use href="#fn" transform="translate(642,1272) rotate(-30) scale(1.1)"/>
  <use href="#fn" transform="translate(654,1272) rotate(15) scale(1.2)"/>
  <use href="#fn" transform="translate(666,1272) rotate(-15) scale(1.1)"/>
  <use href="#fn" transform="translate(678,1272) rotate(25) scale(1.2)"/>
  <use href="#fn" transform="translate(690,1272) rotate(-5) scale(1.1)"/>
  <use href="#fn" transform="translate(702,1272) rotate(30) scale(1.2)"/>
  <use href="#fn" transform="translate(714,1272) rotate(-25) scale(1.1)"/>
  <use href="#fn" transform="translate(726,1272) rotate(10) scale(1.2)"/>
  <use href="#fn" transform="translate(738,1272) rotate(-30) scale(1.1)"/>
  <use href="#fn" transform="translate(750,1272) rotate(20) scale(1.2)"/>
  <use href="#fn" transform="translate(762,1272) rotate(-10) scale(1.1)"/>
  <use href="#fn" transform="translate(774,1272) rotate(30) scale(1.2)"/>
  <use href="#fn" transform="translate(786,1272) rotate(-20) scale(1.1)"/>
  <use href="#fn" transform="translate(798,1272) rotate(5) scale(1.2)"/>
  <use href="#fn" transform="translate(810,1272) rotate(-30) scale(1.1)"/>
  <use href="#fn" transform="translate(822,1272) rotate(20) scale(1.2)"/>
  <use href="#fn" transform="translate(834,1272) rotate(40) scale(1.1)"/>
  <use href="#fn" transform="translate(553,1265) rotate(15) scale(0.9)"/>
  <use href="#fn" transform="translate(576,1265) rotate(-40) scale(0.9)"/>
  <use href="#fn" transform="translate(600,1265) rotate(40) scale(0.9)"/>
  <use href="#fn" transform="translate(624,1265) rotate(-40) scale(0.9)"/>
  <use href="#fn" transform="translate(648,1265) rotate(40) scale(0.9)"/>
  <use href="#fn" transform="translate(672,1265) rotate(-40) scale(0.9)"/>
  <use href="#fn" transform="translate(696,1265) rotate(40) scale(0.9)"/>
  <use href="#fn" transform="translate(720,1265) rotate(-40) scale(0.9)"/>
  <use href="#fn" transform="translate(744,1265) rotate(40) scale(0.9)"/>
  <use href="#fn" transform="translate(768,1265) rotate(-40) scale(0.9)"/>
  <use href="#fn" transform="translate(792,1265) rotate(40) scale(0.9)"/>
  <use href="#fn" transform="translate(816,1265) rotate(-40) scale(0.9)"/>
</g>

<!-- section 2 labels -->
<text class="tn" x="647.5" y="958" font-size="13" textLength="37.5" lengthAdjust="spacingAndGlyphs">Kitchen</text>
<text class="tn" x="718.8" y="958" font-size="13" textLength="73.7" lengthAdjust="spacingAndGlyphs">Compost toilet</text>
<path class="sn" d="M653,964 C640,1000 655,1025 678,1035" marker-end="url(#an)"/>
<path class="sn" d="M737,964 C745,990 740,1015 726,1028" marker-end="url(#an)"/>
<text class="to" x="896.6" y="938.6" font-size="11.5" textLength="47.9" lengthAdjust="spacingAndGlyphs">Manzanita:</text>
<text class="to" x="896.6" y="955.8" font-size="11.5" textLength="45" lengthAdjust="spacingAndGlyphs">Fruit drink</text>
<path class="so" d="M896,934 C882,933 876,945 882,955" marker-end="url(#ao)"/>
<text class="tn" x="896.6" y="1322.4" font-size="12.5" textLength="92.5" lengthAdjust="spacingAndGlyphs">Playground design</text>
<text class="tn" x="896.6" y="1339.1" font-size="12.5" textLength="87.5" lengthAdjust="spacingAndGlyphs">sensitive to slope</text>
<path class="sn" d="M998.6,1321.8 C1015,1318 1022,1300 1017.4,1280.2" marker-end="url(#an)"/>

<!-- bottom orange lines -->
<path class="so" stroke-width="1.4" d="M472,1347 H1110 M472,1362 H1110 M473,1473 H1109 M473,1487 H1109"/>

<!-- bottom row plants -->
<g>
  <use href="#ch" transform="translate(548.3,1400)"/>
  <use href="#ch" transform="translate(630.5,1400)"/>
  <use href="#ch" transform="translate(712.7,1400)"/>
  <use href="#ch" transform="translate(806,1400)"/>
  <use href="#ch" transform="translate(890.4,1400)"/>
  <use href="#ch" transform="translate(974.8,1400)"/>
  <use href="#ch" transform="translate(1063.7,1400)"/>
  <use href="#gr" transform="translate(590.5,1433) scale(1,0.95)"/>
  <use href="#gr" transform="translate(670.5,1433) scale(1,0.95)"/>
  <use href="#gr" transform="translate(750.4,1433) scale(1,0.95)"/>
  <use href="#gr" transform="translate(830.4,1433) scale(1,0.95)"/>
  <use href="#gr" transform="translate(912.6,1433) scale(1,0.95)"/>
  <use href="#gr" transform="translate(992.6,1433) scale(1,0.95)"/>
  <use href="#gr" transform="translate(1072.6,1433) scale(1,0.95)"/>
</g>
<rect x="547.2" y="1286.5" width="3.8" height="153.5" fill="#fff" stroke="#8a1c4a" stroke-width="0.9"/>
<text class="to" x="497.2" y="1413" font-size="11.5" textLength="18" lengthAdjust="spacingAndGlyphs">Chia</text>
<path class="so" d="M516,1410 C528,1418 540,1410 540,1396" marker-end="url(#ao)"/>
<text class="to" x="612.7" y="1442" font-size="11.5" textLength="35.6" lengthAdjust="spacingAndGlyphs">Fusique:</text>
<text class="to" x="612.7" y="1460" font-size="11.5" textLength="59.1" lengthAdjust="spacingAndGlyphs">Edible berries</text>
<path class="so" d="M636,1430 C641,1418 636,1408 620,1412" marker-end="url(#ao)"/>
<text class="to" x="848.2" y="1442" font-size="11.5" textLength="23.1" lengthAdjust="spacingAndGlyphs">Junco</text>
<path class="so" d="M874,1430 C879,1418 874,1408 858,1412" marker-end="url(#ao)"/>

<!-- ================= Right section 2 elevation ================= -->
<g class="sn">
  <polygon points="1144.2,968.5 1497.7,913.5 1498.2,918.8 1145,973.5" fill="#fff"/>
  <rect x="1481.6" y="920.1" width="4.4" height="141.2" fill="#fff"/>
  <rect x="1259.7" y="965" width="8.3" height="7.4" fill="#fff"/>
  <rect x="1309.7" y="965" width="8.3" height="7.4" fill="#fff"/>
  <rect x="1359.7" y="965" width="8.3" height="7.4" fill="#fff"/>
  <rect x="1410.8" y="965" width="7.8" height="7.4" fill="#fff"/>
  <rect x="1460.2" y="965" width="8.3" height="7.4" fill="#fff"/>
  <rect x="1145" y="972.4" width="336.6" height="4.9" fill="#fff"/>
  <rect x="1145" y="977.3" width="8.3" height="84" fill="#fff"/>
  <rect x="1259.7" y="977.3" width="8.3" height="84" fill="#fff"/>
  <rect x="1359.7" y="977.3" width="8.3" height="84" fill="#fff"/>
  <rect x="1460.2" y="977.3" width="8.3" height="84" fill="#fff"/>
</g>
<rect x="1153.9" y="976.8" width="75.3" height="84.5" fill="url(#hatch)" stroke="#8a1c4a" stroke-width="1"/>
<path class="sm" stroke-width="0.8" d="M1268,977.3 Q1289.8,1001 1311.6,977.3 Q1333.8,1001 1356,977.3 M1369.1,977.3 Q1391,1001 1413,977.3 Q1435.2,1001 1457.4,977.3"/>
<use href="#tr" transform="translate(1321,1098) scale(1.05,0.8)"/>
<use href="#fn" transform="translate(1472,1066) rotate(-35) scale(1.1)"/>
<use href="#fn" transform="translate(1478,1062) rotate(-10) scale(1.2)"/>
<use href="#fn" transform="translate(1490,1064) rotate(15) scale(1.1)"/>
<use href="#fn" transform="translate(1500,1068) rotate(35) scale(1.1)"/>
<use href="#fn" transform="translate(1506,1072) rotate(55) scale(0.9)"/>
<g class="sn">
  <rect x="1145" y="1061.3" width="358.3" height="8.4" fill="#fff"/>
  <rect x="1130.6" y="1025.2" width="13.9" height="44.5" fill="#fff"/>
  <path d="M1130.6,1035.7 H1144.5 M1130.6,1047.2 H1144.5 M1130.6,1058.6 H1144.5"/>
  <polygon points="1130.6,1069.7 1201.9,1069.7 1201.9,1078.6 1174.2,1078.6 1174.2,1105 1130.6,1105" fill="#fff"/>
  <rect x="1260.3" y="1069.7" width="7.7" height="11.6" fill="#fff"/>
  <rect x="1261.6" y="1081.3" width="4.7" height="50.6" fill="#fff"/>
  <rect x="1359.7" y="1069.7" width="8.3" height="33.8" fill="#fff"/>
  <rect x="1361.1" y="1103.5" width="5.3" height="47.3" fill="#fff"/>
  <rect x="1460.2" y="1069.7" width="8.3" height="63.8" fill="#fff"/>
  <rect x="1462.1" y="1133.5" width="5" height="99.5" fill="#fff"/>
</g>
<path class="so" stroke-width="1.2" d="M1110.3,1018.6 L1130.6,1025.2 M1201.9,1069.7 C1225,1075 1250,1079 1265.8,1081.3 C1290,1086 1300,1089 1318.6,1092.4 C1335,1096 1350,1100 1360.2,1102.4 C1380,1110 1390,1115 1401.9,1119.1 C1415,1124 1425,1127 1429.6,1127.9 C1445,1131 1455,1133 1463,1134.6 C1472,1136 1480,1137 1485.2,1137.9"/>
<use href="#rt" transform="translate(1322,1094) scale(0.9,2)"/>
<ellipse cx="1322.7" cy="1099" rx="14" ry="14" class="so" stroke-width="0.7" stroke-dasharray="3,2.5"/>
<use href="#gr" transform="translate(1421.3,1126.8) scale(0.8,0.75)"/>
<use href="#rt" transform="translate(1421.3,1126.8)"/>
<use href="#gr" transform="translate(1494.9,1140) scale(0.8,0.72)"/>
<use href="#rt" transform="translate(1494.9,1140)"/>

<!-- ================= Bottom left: production ================= -->
<g fill="#fff" stroke="#e0652e" stroke-width="0.8">
  <g transform="translate(404,1365) rotate(40)">
    <rect x="-52" y="-26" width="26" height="5.5"/><rect x="-22" y="-26" width="26" height="5.5"/><rect x="8" y="-26" width="26" height="5.5"/>
    <rect x="-40" y="-17" width="26" height="5.5"/><rect x="-10" y="-17" width="26" height="5.5"/><rect x="20" y="-17" width="26" height="5.5"/>
    <rect x="-55" y="-8" width="26" height="5.5"/><rect x="-25" y="-8" width="26" height="5.5"/><rect x="5" y="-8" width="26" height="5.5"/><rect x="35" y="-8" width="20" height="5.5"/>
    <rect x="-45" y="1" width="26" height="5.5"/><rect x="-15" y="1" width="26" height="5.5"/><rect x="15" y="1" width="26" height="5.5"/>
    <rect x="-52" y="10" width="26" height="5.5"/><rect x="-22" y="10" width="26" height="5.5"/><rect x="8" y="10" width="26" height="5.5"/><rect x="38" y="10" width="18" height="5.5"/>
    <rect x="-38" y="19" width="26" height="5.5"/><rect x="-8" y="19" width="26" height="5.5"/><rect x="22" y="19" width="26" height="5.5"/>
    <rect x="-30" y="-12" width="5" height="5"/><rect x="0" y="-3" width="5" height="5"/><rect x="14" y="6" width="5" height="5"/><rect x="-18" y="15" width="5" height="5"/>
  </g>
</g>

<rect x="312.6" y="1211.6" width="129.9" height="77" class="smw"/>
<text class="tm" x="322.6" y="1232.6" font-size="14" textLength="92.2" lengthAdjust="spacingAndGlyphs">Each child gets</text>
<text class="tm" x="322.6" y="1254.3" font-size="14" textLength="114.4" lengthAdjust="spacingAndGlyphs">Macias-made Sisal</text>
<text class="tm" x="322.6" y="1275.9" font-size="14" textLength="52.8" lengthAdjust="spacingAndGlyphs">slippers.</text>
<g fill="#fff" stroke="#e0652e" stroke-width="0.8">
  <ellipse cx="408" cy="1288" rx="20" ry="6.5" transform="rotate(6 408 1288)"/>
  <path d="M392,1286 H424 M392,1290 H424"/>
  <ellipse cx="426" cy="1283" rx="16" ry="10" transform="rotate(-8 426 1283)"/>
  <path d="M412,1280 Q426,1274 440,1278 M411,1284 Q426,1278 441,1282 M412,1288 Q426,1282 440,1286 M414,1291 Q426,1287 438,1290"/>
</g>

<rect x="100.4" y="1296.6" width="179.1" height="36.6" class="smw"/>
<text class="tm" x="105.2" y="1322.6" font-size="21" textLength="158.3" lengthAdjust="spacingAndGlyphs">Production Centre</text>
<path class="sm" d="M266,1334 C310,1345 365,1340 363,1290" marker-end="url(#am)"/>
<path class="sm" d="M163.5,1333.3 C185,1380 240,1395 302,1383" marker-end="url(#am)"/>
<rect x="302.6" y="1361.9" width="129.4" height="29" class="smw"/>
<text class="tm" x="314.8" y="1380.9" font-size="15" textLength="107.8" lengthAdjust="spacingAndGlyphs">Woven partitions</text>

<path class="sm" d="M443,1241 C520,1228 595,1195 603,1078" marker-end="url(#am)"/>
<path class="sm" d="M432,1368 C520,1352 600,1312 603,1206" marker-end="url(#am)"/>

<!-- ================= Bottom right text ================= -->
<rect x="1134" y="1311" width="254" height="72" fill="none" stroke="#4b4a88" stroke-width="1" stroke-dasharray="4,3"/>
<text class="tn" x="1140" y="1337" font-size="20" textLength="238" lengthAdjust="spacingAndGlyphs">Children learn songs about</text>
<text class="tn" x="1140" y="1368" font-size="20" textLength="151" lengthAdjust="spacingAndGlyphs">plants and trash!</text>
<text x="1136" y="1405" font-size="14" fill="#4b4a88" textLength="256" lengthAdjust="spacingAndGlyphs">I love the macias plants and the plants love me,</text>
<text x="1136" y="1427" font-size="14" fill="#4b4a88" textLength="201" lengthAdjust="spacingAndGlyphs">plastics on tuesday, my responsibility</text>
<text x="1136" y="1449" font-size="14" fill="#4b4a88" textLength="252" lengthAdjust="spacingAndGlyphs">I love the macias plants and the plants love me</text>
<text x="1136" y="1471" font-size="14" fill="#4b4a88" textLength="260" lengthAdjust="spacingAndGlyphs">trash on mondays and fridays, we’re in harmony</text>

</svg>
</body>
</html>
